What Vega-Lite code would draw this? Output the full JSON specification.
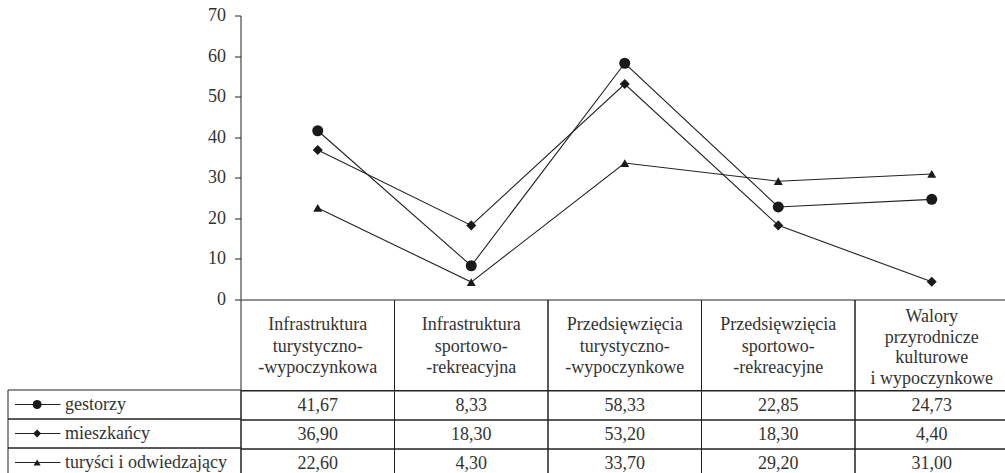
{
  "$schema": "https://vega.github.io/schema/vega-lite/v6.json",
  "autosize": {"type": "pad"},
  "padding": {"left": 7, "top": 7, "right": -3.5, "bottom": -4.5},
  "config": {
    "view": {"stroke": null},
    "font": "Liberation Serif",
    "concat": {"spacing": 0},
    "locale": {"number": {"decimal": ",", "thousands": "\u00a0", "grouping": [3], "currency": ["", " zł"]}}
  },
  "datasets": {
    "values": [
      {"cat": "Infrastruktura\nturystyczno-\n-wypoczynkowa", "series": "gestorzy", "value": 41.67},
      {"cat": "Infrastruktura\nsportowo-\n-rekreacyjna", "series": "gestorzy", "value": 8.33},
      {"cat": "Przedsięwzięcia\nturystyczno-\n-wypoczynkowe", "series": "gestorzy", "value": 58.33},
      {"cat": "Przedsięwzięcia\nsportowo-\n-rekreacyjne", "series": "gestorzy", "value": 22.85},
      {"cat": "Walory\nprzyrodnicze\nkulturowe\ni wypoczynkowe", "series": "gestorzy", "value": 24.73},
      {"cat": "Infrastruktura\nturystyczno-\n-wypoczynkowa", "series": "mieszkańcy", "value": 36.90},
      {"cat": "Infrastruktura\nsportowo-\n-rekreacyjna", "series": "mieszkańcy", "value": 18.30},
      {"cat": "Przedsięwzięcia\nturystyczno-\n-wypoczynkowe", "series": "mieszkańcy", "value": 53.20},
      {"cat": "Przedsięwzięcia\nsportowo-\n-rekreacyjne", "series": "mieszkańcy", "value": 18.30},
      {"cat": "Walory\nprzyrodnicze\nkulturowe\ni wypoczynkowe", "series": "mieszkańcy", "value": 4.40},
      {"cat": "Infrastruktura\nturystyczno-\n-wypoczynkowa", "series": "turyści i odwiedzający", "value": 22.60},
      {"cat": "Infrastruktura\nsportowo-\n-rekreacyjna", "series": "turyści i odwiedzający", "value": 4.30},
      {"cat": "Przedsięwzięcia\nturystyczno-\n-wypoczynkowe", "series": "turyści i odwiedzający", "value": 33.70},
      {"cat": "Przedsięwzięcia\nsportowo-\n-rekreacyjne", "series": "turyści i odwiedzający", "value": 29.20},
      {"cat": "Walory\nprzyrodnicze\nkulturowe\ni wypoczynkowe", "series": "turyści i odwiedzający", "value": 31.00}
    ],
    "cats": [
      {"cat": "Infrastruktura\nturystyczno-\n-wypoczynkowa"},
      {"cat": "Infrastruktura\nsportowo-\n-rekreacyjna"},
      {"cat": "Przedsięwzięcia\nturystyczno-\n-wypoczynkowe"},
      {"cat": "Przedsięwzięcia\nsportowo-\n-rekreacyjne"},
      {"cat": "Walory\nprzyrodnicze\nkulturowe\ni wypoczynkowe"}
    ],
    "series": [
      {"series": "gestorzy"},
      {"series": "mieszkańcy"},
      {"series": "turyści i odwiedzający"}
    ]
  },
  "resolve": {"scale": {"x": "independent", "y": "independent", "size": "independent", "shape": "independent"}},
  "bounds": "flush",
  "spacing": 0,
  "hconcat": [
    {
      "width": 233,
      "height": 461,
      "data": {"name": "series"},
      "encoding": {
        "y": {"field": "series", "type": "nominal", "sort": null,
              "scale": {"domain": ["gestorzy", "mieszkańcy", "turyści i odwiedzający"], "paddingInner": 0, "paddingOuter": 0, "range": [374, 461]},
              "axis": null}
      },
      "layer": [
        {
          "mark": {"type": "rect", "fill": "transparent", "stroke": "#222", "strokeWidth": 1},
          "encoding": {
            "x": {"datum": 0, "type": "quantitative", "scale": {"domain": [0, 1], "nice": false, "zero": false}, "axis": null},
            "x2": {"datum": 1}
          }
        },
        {
          "mark": {"type": "rule", "stroke": "#222", "strokeWidth": 1.1},
          "encoding": {
            "x": {"datum": 0.03, "type": "quantitative"},
            "x2": {"datum": 0.225}
          }
        },
        {
          "mark": {"type": "point", "filled": true, "color": "#1a1a1a", "opacity": 1},
          "encoding": {
            "x": {"datum": 0.125, "type": "quantitative"},
            "shape": {"field": "series", "type": "nominal", "scale": {"domain": ["gestorzy", "mieszkańcy", "turyści i odwiedzający"], "range": ["circle", "diamond", "triangle-up"]}, "legend": null},
            "size": {"field": "series", "type": "nominal", "scale": {"domain": ["gestorzy", "mieszkańcy", "turyści i odwiedzający"], "range": [80, 50, 70]}, "legend": null}
          }
        },
        {
          "mark": {"type": "text", "align": "left", "baseline": "middle", "fontSize": 18, "color": "#333"},
          "encoding": {
            "x": {"datum": 0.245, "type": "quantitative"},
            "text": {"field": "series"}
          }
        }
      ]
    },
    {
      "resolve": {"scale": {"y": "independent"}},
      "bounds": "flush",
      "spacing": 0,
      "vconcat": [
        {
          "width": 767.5,
          "height": 283.5,
          "data": {"name": "values"},
          "encoding": {
            "x": {"field": "cat", "type": "nominal", "sort": null,
                  "scale": {"domain": ["Infrastruktura\nturystyczno-\n-wypoczynkowa", "Infrastruktura\nsportowo-\n-rekreacyjna", "Przedsięwzięcia\nturystyczno-\n-wypoczynkowe", "Przedsięwzięcia\nsportowo-\n-rekreacyjne", "Walory\nprzyrodnicze\nkulturowe\ni wypoczynkowe"], "paddingInner": 0, "paddingOuter": 0},
                  "axis": null},
            "y": {"field": "value", "type": "quantitative",
                  "scale": {"domain": [0, 70], "nice": false},
                  "axis": {"values": [0, 10, 20, 30, 40, 50, 60, 70], "title": null, "grid": false, "tickSize": 6, "labelPadding": 9,
                           "labelFontSize": 18, "labelColor": "#333", "labelFont": "Liberation Serif", "domainColor": "#222", "tickColor": "#222", "translate": 0}}
          },
          "layer": [
            {
              "mark": {"type": "line", "color": "#222", "strokeWidth": 1.1},
              "encoding": {"detail": {"field": "series"}}
            },
            {
              "mark": {"type": "point", "filled": true, "color": "#1a1a1a", "opacity": 1},
              "encoding": {
                "shape": {"field": "series", "type": "nominal", "scale": {"domain": ["gestorzy", "mieszkańcy", "turyści i odwiedzający"], "range": ["circle", "diamond", "triangle-up"]}, "legend": null},
                "size": {"field": "series", "type": "nominal", "scale": {"domain": ["gestorzy", "mieszkańcy", "turyści i odwiedzający"], "range": [121, 80, 100]}, "legend": null}
              }
            }
          ]
        },
        {
          "width": 767.5,
          "height": 90.5,
          "data": {"name": "cats"},
          "encoding": {
            "x": {"field": "cat", "type": "nominal", "sort": null,
                  "scale": {"domain": ["Infrastruktura\nturystyczno-\n-wypoczynkowa", "Infrastruktura\nsportowo-\n-rekreacyjna", "Przedsięwzięcia\nturystyczno-\n-wypoczynkowe", "Przedsięwzięcia\nsportowo-\n-rekreacyjne", "Walory\nprzyrodnicze\nkulturowe\ni wypoczynkowe"], "paddingInner": 0, "paddingOuter": 0},
                  "axis": null}
          },
          "layer": [
            {"mark": {"type": "rect", "fill": "transparent", "stroke": "#222", "strokeWidth": 1}},
            {
              "transform": [{"filter": "indexof(datum.cat, 'Walory') < 0"}],
              "mark": {"type": "text", "lineBreak": "\n", "lineHeight": 21.5, "baseline": "middle", "fontSize": 18, "color": "#333", "dy": -20},
              "encoding": {"text": {"field": "cat"}}
            },
            {
              "transform": [{"filter": "indexof(datum.cat, 'Walory') >= 0"}],
              "mark": {"type": "text", "lineBreak": "\n", "lineHeight": 20.5, "baseline": "middle", "fontSize": 18, "color": "#333", "dy": -28},
              "encoding": {"text": {"field": "cat"}}
            }
          ]
        },
        {
          "width": 767.5,
          "height": 87,
          "data": {"name": "values"},
          "encoding": {
            "x": {"field": "cat", "type": "nominal", "sort": null,
                  "scale": {"domain": ["Infrastruktura\nturystyczno-\n-wypoczynkowa", "Infrastruktura\nsportowo-\n-rekreacyjna", "Przedsięwzięcia\nturystyczno-\n-wypoczynkowe", "Przedsięwzięcia\nsportowo-\n-rekreacyjne", "Walory\nprzyrodnicze\nkulturowe\ni wypoczynkowe"], "paddingInner": 0, "paddingOuter": 0},
                  "axis": null},
            "y": {"field": "series", "type": "nominal", "sort": null,
                  "scale": {"domain": ["gestorzy", "mieszkańcy", "turyści i odwiedzający"], "paddingInner": 0, "paddingOuter": 0},
                  "axis": null}
          },
          "layer": [
            {"mark": {"type": "rect", "fill": "transparent", "stroke": "#222", "strokeWidth": 1}},
            {
              "mark": {"type": "text", "baseline": "middle", "fontSize": 18, "color": "#333"},
              "encoding": {"text": {"field": "value", "type": "quantitative", "format": ".2f"}}
            }
          ]
        }
      ]
    }
  ]
}
